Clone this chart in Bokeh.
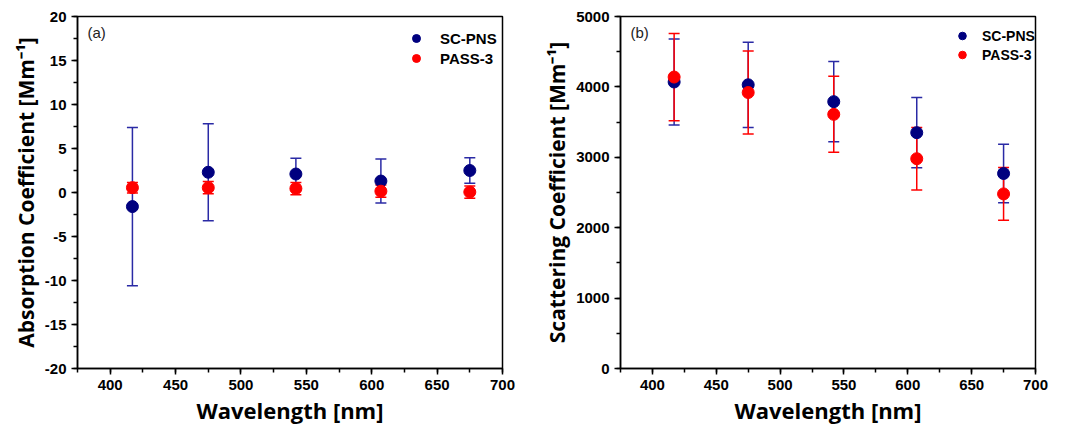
from bokeh.plotting import figure
from bokeh.models import (Range1d, SingleIntervalTicker, ColumnDataSource, Whisker, TeeHead,
                          Legend, LegendItem, Label, PrintfTickFormatter)
from bokeh.layouts import row
from bokeh.embed import file_html
from bokeh.resources import INLINE

wavelength = [417, 475, 542, 607, 675]

abs_scpns = [-1.6, 2.3, 2.1, 1.3, 2.5]
abs_scpns_err = [9.0, 5.5, 1.8, 2.5, 1.45]
abs_pass3 = [0.55, 0.55, 0.45, 0.15, 0.05]
abs_pass3_err = [0.6, 0.7, 0.7, 0.7, 0.7]

sca_scpns = [4070, 4030, 3790, 3350, 2770]
sca_scpns_err = [610, 605, 570, 500, 415]
sca_pass3 = [4140, 3920, 3610, 2980, 2480]
sca_pass3_err = [620, 590, 540, 445, 375]

series_names = ["SC-PNS", "PASS-3"]
panel_tags = ["(a)", "(b)"]

BLUE = "#00007f"
BLUE_BAR = "#2a2aa5"
RED = "#ff0000"
TICK_FONT = "Liberation Sans"
LABEL_FONT = "Open Sans"


def make_panel(width, left, right, yr, yint, ylabel, s1, e1, s2, e2, tag,
               legend_loc, legend_size, legend_standoff, legend_pitch):
    p = figure(width=width, height=427, output_backend="svg", toolbar_location=None,
               x_range=Range1d(375, 700), y_range=Range1d(*yr),
               min_border_left=left, min_border_right=right,
               min_border_top=16, min_border_bottom=58)
    p.background_fill_color = "white"
    p.border_fill_color = "white"
    p.grid.visible = False
    p.outline_line_color = "black"
    p.outline_line_width = 1.5

    p.xaxis.ticker = SingleIntervalTicker(interval=50, num_minor_ticks=2)
    p.yaxis.ticker = SingleIntervalTicker(interval=yint, num_minor_ticks=2)
    p.xaxis.formatter = PrintfTickFormatter(format="%d")
    p.yaxis.formatter = PrintfTickFormatter(format="%d")
    for ax in (p.xaxis, p.yaxis):
        ax.axis_line_width = 1.5
        ax.major_tick_line_width = 1.5
        ax.minor_tick_line_width = 1.5
        ax.major_tick_out = 6
        ax.major_tick_in = 0
        ax.minor_tick_out = 4
        ax.minor_tick_in = 0
        ax.major_label_text_font = TICK_FONT
        ax.major_label_text_font_style = "bold"
        ax.major_label_text_font_size = "15px"
        ax.major_label_text_color = "black"
        ax.axis_label_text_font = LABEL_FONT
        ax.axis_label_text_font_style = "bold"
        ax.axis_label_text_color = "black"
    p.xaxis.axis_label_text_font_size = "22px"
    p.yaxis.axis_label_text_font_size = "21px"
    p.xaxis.axis_label = "Wavelength [nm]"
    p.yaxis.axis_label = ylabel
    p.xaxis.axis_label_standoff = 2
    p.yaxis.axis_label_standoff = 2

    src1 = ColumnDataSource(dict(x=wavelength, y=s1,
                                 lo=[v - e for v, e in zip(s1, e1)],
                                 hi=[v + e for v, e in zip(s1, e1)]))
    src2 = ColumnDataSource(dict(x=wavelength, y=s2,
                                 lo=[v - e for v, e in zip(s2, e2)],
                                 hi=[v + e for v, e in zip(s2, e2)]))
    for src, col in ((src1, BLUE_BAR), (src2, RED)):
        w = Whisker(source=src, base="x", upper="hi", lower="lo", dimension="height",
                    line_color=col, line_width=1.5, level="underlay",
                    upper_head=TeeHead(size=11, line_color=col, line_width=1.5),
                    lower_head=TeeHead(size=11, line_color=col, line_width=1.5))
        p.add_layout(w)

    r1 = p.scatter("x", "y", source=src1, size=12, fill_color=BLUE, line_color=BLUE)
    r2 = p.scatter("x", "y", source=src2, size=12, fill_color=RED, line_color=RED)

    legend = Legend(items=[LegendItem(label=series_names[0], renderers=[r1]),
                           LegendItem(label=series_names[1], renderers=[r2])],
                    location=legend_loc, padding=0, margin=0, spacing=0,
                    glyph_width=20, glyph_height=legend_pitch, label_height=legend_pitch,
                    label_standoff=legend_standoff, border_line_color=None,
                    background_fill_alpha=0,
                    label_text_font=TICK_FONT, label_text_font_style="bold",
                    label_text_font_size=legend_size, label_text_color="black")
    p.add_layout(legend, "center")

    p.add_layout(Label(x=10, y=336, x_units="screen", y_units="screen", text=tag,
                       text_font=TICK_FONT, text_font_size="15px", text_color="#222222",
                       text_baseline="middle"))
    return p


p1 = make_panel(530, 77, 28, (-20, 20), 5, "Absorption Coefficient [Mm\u207b\u00b9]",
                abs_scpns, abs_scpns_err, abs_pass3, abs_pass3_err, panel_tags[0],
                (329, 300), "15px", 14, 20)
p2 = make_panel(530, 90, 25, (0, 5000), 1000, "Scattering Coefficient [Mm\u207b\u00b9]",
                sca_scpns, sca_scpns_err, sca_pass3, sca_pass3_err, panel_tags[1],
                (332, 304), "14px", 10, 19)

layout = row(p1, p2)
open("out.html", "w").write(file_html(layout, INLINE))
